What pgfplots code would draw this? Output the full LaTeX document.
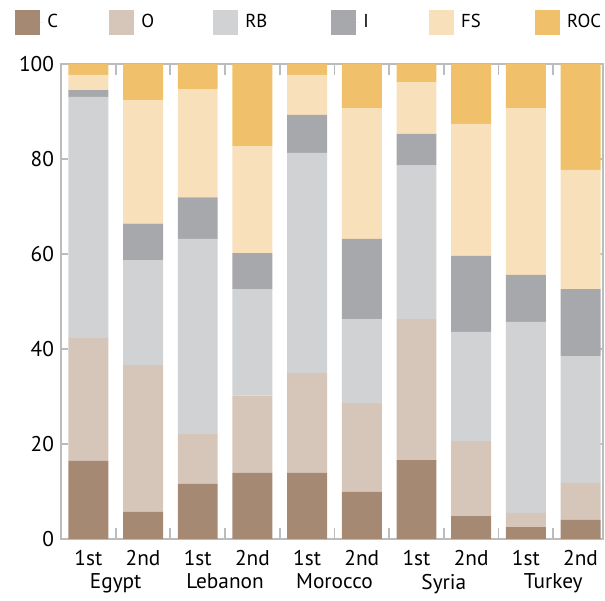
\documentclass[border=0pt]{standalone}
\usepackage{fontspec}
\setmainfont{PT Sans}
\usepackage{pgfplots}
\pgfplotsset{compat=1.18}
\usepackage{pgfplotstable}

\definecolor{cC}{HTML}{A68973}
\definecolor{cO}{HTML}{D6C6BA}
\definecolor{cRB}{HTML}{D1D2D4}
\definecolor{cI}{HTML}{A7A8AB}
\definecolor{cFS}{HTML}{F8E0BA}
\definecolor{cROC}{HTML}{F0C16A}
\definecolor{axgray}{HTML}{BBBCBE}

% x: 0/1 Egypt, 2/3 Lebanon, 4/5 Morocco, 6/7 Syria, 8/9 Turkey
\pgfplotstableread{
x C O RB I FS ROC
0 16.5 25.8 50.8 1.4 3.2 2.3
1 5.7 30.9 22.1 7.7 26.0 7.6
2 11.6 10.5 41.1 8.7 22.8 5.3
3 13.9 16.3 22.4 7.6 22.5 17.3
4 13.9 21.0 46.4 8.0 8.4 2.3
5 9.9 18.7 17.7 16.9 27.5 9.3
6 16.6 29.7 32.4 6.6 10.9 3.8
7 4.8 15.8 23.0 16.0 27.8 12.6
8 2.5 3.0 40.2 9.9 35.1 9.3
9 4.0 7.8 26.7 14.1 25.1 22.3
}\shares

\pgfplotsset{sq/.style={legend image code/.code={%
  \fill[##1] (0bp,-6.25bp) rectangle (12.5bp,6.25bp);
  \path (0bp,0bp) -- (14bp,0bp);}}}

\begin{document}
\begin{tikzpicture}
\begin{axis}[
scale only axis,
width=271bp, height=237.5bp,
ybar stacked, bar width=0.73,
xmin=-0.5, xmax=9.41, ymin=0, ymax=100,
axis line style={axgray, line width=0.9bp},
tick style={axgray, line width=0.9bp},
tick align=inside,
xtick pos=both, ytick pos=both,
xticklabel pos=bottom, yticklabel pos=left,
xtick={0,...,9},
xticklabels={1st,2nd,1st,2nd,1st,2nd,1st,2nd,1st,2nd},
major x tick style={draw=none},
minor xtick={0.5,1.5,...,8.5},
minor tick length=5.5bp,
major tick length=3.5bp,
ytick={0,20,...,100},
xticklabel style={yshift=-2bp},
extra x ticks={0.5,2.5,4.5,6.5,8.5},
extra x tick labels={Egypt,Lebanon,Morocco,Syria,Turkey},
extra x tick style={major x tick style={draw=none}, xticklabel style={yshift=-12bp}},
/pgf/number format/assume math mode=true,
tick label style={font=\fontsize{10.7}{12}\selectfont},
legend columns=6,
legend style={draw=none, fill=none, inner sep=0pt,
  at={(axis description cs:-0.0849,1.088)}, anchor=west,
  font=\fontsize{9.4}{10}\selectfont,
  /tikz/every even column/.append style={column sep=8bp}},
]
\addplot[fill=cC, draw=none, sq] table[x=x, y=C] {\shares};
\addlegendentry{\makebox[21bp][l]{C}}
\addplot[fill=cO, draw=none, sq] table[x=x, y=O] {\shares};
\addlegendentry{\makebox[26bp][l]{O}}
\addplot[fill=cRB, draw=none, sq] table[x=x, y=RB] {\shares};
\addlegendentry{\makebox[33bp][l]{RB}}
\addplot[fill=cI, draw=none, sq] table[x=x, y=I] {\shares};
\addlegendentry{\makebox[23bp][l]{I}}
\addplot[fill=cFS, draw=none, sq] table[x=x, y=FS] {\shares};
\addlegendentry{\makebox[27bp][l]{FS}}
\addplot[fill=cROC, draw=none, sq] table[x=x, y=ROC] {\shares};
\addlegendentry{\makebox[14bp][l]{ROC}}
\end{axis}
\path (current axis.south west) ++(-30.5bp,-30.5bp) coordinate (bbsw);
\path (current axis.north east) ++(1bp,32bp) coordinate (bbne);
\path (bbsw) rectangle (bbne);
\end{tikzpicture}
\end{document}
